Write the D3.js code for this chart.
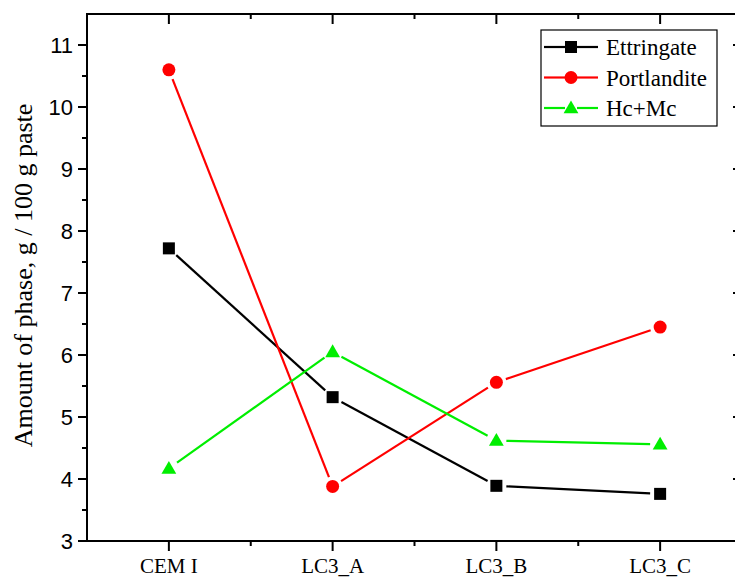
<!DOCTYPE html>
<html>
<head>
<meta charset="utf-8">
<script src="https://cdn.jsdelivr.net/npm/d3@7"></script>
<style>
body { margin:0; background:#fff; }
svg { display:block; }
.serif { font-family: "Liberation Serif", "DejaVu Serif", serif; }
.sans { font-family: "Liberation Sans", Arial, sans-serif; }
</style>
</head>
<body>
<div class="graphics"></div>
<script>
var categories = ["CEM I", "LC3_A", "LC3_B", "LC3_C"];
var ettringate = [7.72, 5.32, 3.89, 3.76];
var portlandite = [10.6, 3.88, 5.56, 6.45];
var hcmc = [4.17, 6.05, 4.62, 4.56];
var yTicks = [3, 4, 5, 6, 7, 8, 9, 10, 11];

var series = [
    {name: "Ettringate", values: ettringate, color: "#000000", shape: "square"},
    {name: "Portlandite", values: portlandite, color: "#ff0000", shape: "circle"},
    {name: "Hc+Mc", values: hcmc, color: "#00ee00", shape: "triangle"}
];

var w = 735, h = 578;
var pLeft = 87, pTop = 14, pRight = 742, pBottom = 541;

var svg = d3.select('.graphics')
    .append('svg')
    .attr("width", w)
    .attr("height", h);

var x = d3.scaleLinear().domain([0.5, 4.5]).range([pLeft, pRight]);
var y = d3.scaleLinear().domain([3, 11.5]).range([pBottom, pTop]);

var minorY = d3.range(3.5, 11.5, 1);
var xMajor = [1, 2, 3, 4];
var xMinor = [1.5, 2.5, 3.5];

// frame
svg.append("rect")
    .attr("x", pLeft).attr("y", pTop)
    .attr("width", pRight - pLeft).attr("height", pBottom - pTop)
    .attr("fill", "none").attr("stroke", "#000").attr("stroke-width", 2);

var ticks = svg.append("g").attr("stroke", "#000").attr("stroke-width", 2);
yTicks.forEach(function(v){
    ticks.append("line").attr("x1", pLeft - 9).attr("x2", pLeft).attr("y1", y(v)).attr("y2", y(v));
    ticks.append("line").attr("x1", pRight).attr("x2", pRight - 9).attr("y1", y(v)).attr("y2", y(v));
});
minorY.forEach(function(v){
    ticks.append("line").attr("x1", pLeft - 5).attr("x2", pLeft).attr("y1", y(v)).attr("y2", y(v));
    ticks.append("line").attr("x1", pRight).attr("x2", pRight - 5).attr("y1", y(v)).attr("y2", y(v));
});
xMajor.forEach(function(v){
    ticks.append("line").attr("x1", x(v)).attr("x2", x(v)).attr("y1", pBottom).attr("y2", pBottom + 10);
    ticks.append("line").attr("x1", x(v)).attr("x2", x(v)).attr("y1", pTop).attr("y2", pTop + 10);
});
xMinor.forEach(function(v){
    ticks.append("line").attr("x1", x(v)).attr("x2", x(v)).attr("y1", pBottom).attr("y2", pBottom + 5);
    ticks.append("line").attr("x1", x(v)).attr("x2", x(v)).attr("y1", pTop).attr("y2", pTop + 5);
});

svg.selectAll(".ylab")
    .data(yTicks)
    .enter()
    .append("text")
    .attr("class", "sans")
    .attr("x", pLeft - 14)
    .attr("y", function(d){ return y(d); })
    .attr("dy", "0.36em")
    .attr("text-anchor", "end")
    .attr("font-size", 22)
    .text(function(d){ return d; });

svg.selectAll(".xlab")
    .data(categories)
    .enter()
    .append("text")
    .attr("class", "serif")
    .attr("x", function(d, i){ return x(i + 1); })
    .attr("y", pBottom + 32)
    .attr("text-anchor", "middle")
    .attr("font-size", 21)
    .text(function(d){ return d; });

svg.append("text")
    .attr("class", "serif")
    .attr("transform", "translate(32," + ((pTop + pBottom) / 2 - 2) + ") rotate(-90)")
    .attr("text-anchor", "middle")
    .attr("font-size", 26)
    .text("Amount of phase, g / 100 g paste");

function marker(g, shape, cx, cy, color){
    if (shape === "square") {
        g.append("rect").attr("x", cx - 6).attr("y", cy - 6).attr("width", 12).attr("height", 12).attr("fill", color);
    } else if (shape === "circle") {
        g.append("circle").attr("cx", cx).attr("cy", cy).attr("r", 6.5).attr("fill", color);
    } else {
        g.append("path").attr("d", d3.symbol().type(d3.symbolTriangle).size(95)()).attr("transform", "translate(" + cx + "," + (cy + 1) + ")").attr("fill", color);
    }
}

var gap = 10;
series.forEach(function(s){
    var g = svg.append("g");
    var pts = s.values.map(function(v, i){ return [x(i + 1), y(v)]; });
    for (var i = 0; i < pts.length - 1; i++) {
        var a = pts[i], b = pts[i + 1];
        var dx = b[0] - a[0], dy = b[1] - a[1];
        var len = Math.sqrt(dx * dx + dy * dy);
        var ux = dx / len, uy = dy / len;
        g.append("line")
            .attr("x1", a[0] + ux * gap).attr("y1", a[1] + uy * gap)
            .attr("x2", b[0] - ux * gap).attr("y2", b[1] - uy * gap)
            .attr("stroke", s.color).attr("stroke-width", 2.2);
    }
    pts.forEach(function(p){ marker(g, s.shape, p[0], p[1], s.color); });
});

// legend
var lg = svg.append("g");
lg.append("rect").attr("x", 541).attr("y", 30).attr("width", 176).attr("height", 96)
    .attr("fill", "#fff").attr("stroke", "#000").attr("stroke-width", 1.2);
series.forEach(function(s, i){
    var ly = 47 + i * 30.5;
    lg.append("line").attr("x1", 544).attr("x2", 565).attr("y1", ly).attr("y2", ly).attr("stroke", s.color).attr("stroke-width", 2.2);
    lg.append("line").attr("x1", 577).attr("x2", 598).attr("y1", ly).attr("y2", ly).attr("stroke", s.color).attr("stroke-width", 2.2);
    marker(lg, s.shape, 571, ly, s.color);
    lg.append("text").attr("class", "serif").attr("x", 606).attr("y", ly).attr("dy", "0.35em")
        .attr("font-size", 23)
        .text(s.name);
});
</script>
</body>
</html>
